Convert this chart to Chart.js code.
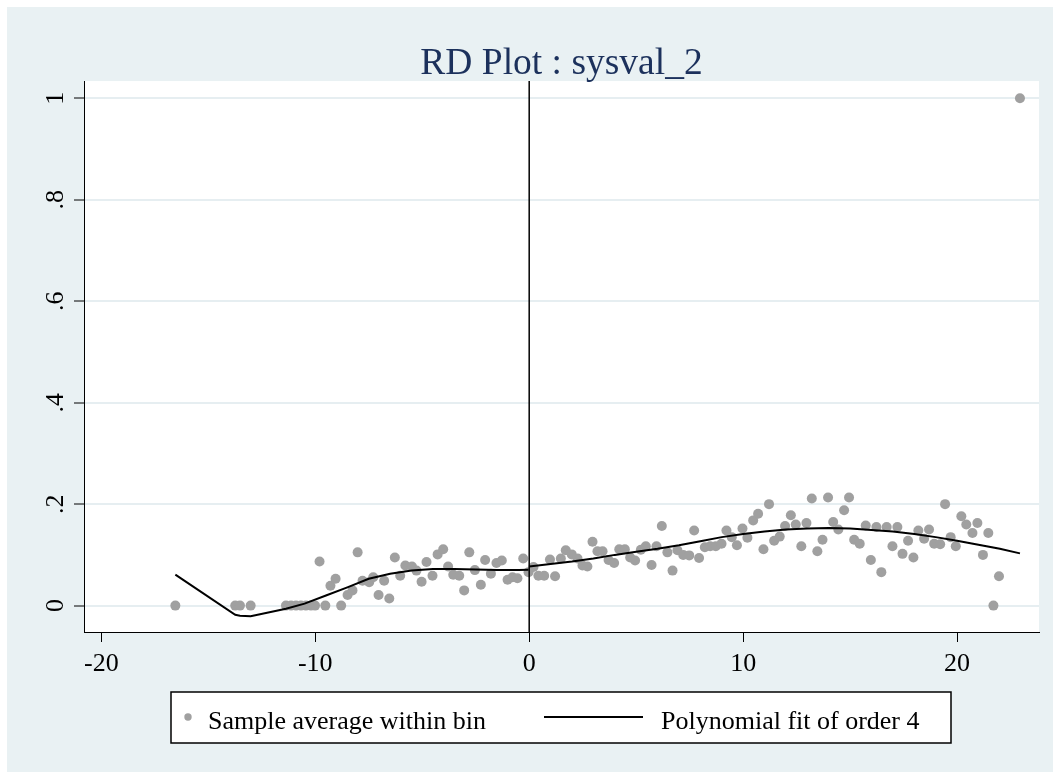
<!DOCTYPE html>
<html>
<head>
<meta charset="utf-8">
<title>RD Plot : sysval_2</title>
<script src="https://cdn.jsdelivr.net/npm/chart.js@4.4.1/dist/chart.umd.min.js"></script>
<style>
  html, body { margin: 0; padding: 0; background: #fff; }
  #wrap { position: relative; width: 1053px; height: 772px; }
</style>
</head>
<body>
<div id="wrap"><canvas id="rdplot" width="1053" height="772"></canvas></div>
<script>
// 1. Data: bin averages (left and right of the cutoff)
const binX = [
  -16.54, -13.74, -13.52, -13.02,
  -11.37, -11.13, -10.9, -10.67, -10.44, -10.2, -10.01, -9.8, -9.53, -9.29, -9.05, -8.79,
  -8.49, -8.26, -8.02, -7.79, -7.48, -7.29, -7.04, -6.78, -6.54, -6.28, -6.03, -5.79,
  -5.48, -5.27, -5.03, -4.8, -4.52, -4.28, -4.02, -3.79, -3.55, -3.27, -3.04, -2.8,
  -2.54, -2.26, -2.06, -1.79, -1.53, -1.28, -1.01, -0.78, -0.55, -0.28, -0.03,
  0.2, 0.43, 0.7, 0.97, 1.21, 1.48, 1.71, 1.99, 2.26, 2.49, 2.72, 2.96, 3.19, 3.43,
  3.71, 3.97, 4.21, 4.47, 4.72, 4.95, 5.22, 5.45, 5.72, 5.95, 6.2, 6.46, 6.7, 6.93,
  7.2, 7.48, 7.71, 7.94, 8.21, 8.46, 8.72, 8.99, 9.22, 9.47, 9.71, 9.97, 10.2, 10.47,
  10.7, 10.95, 11.21, 11.45, 11.71, 11.96, 12.23, 12.46, 12.72, 12.96, 13.21, 13.47,
  13.71, 13.97, 14.21, 14.45, 14.72, 14.95, 15.19, 15.45, 15.73, 15.97, 16.23, 16.46,
  16.71, 16.98, 17.21, 17.45, 17.71, 17.96, 18.19, 18.46, 18.69, 18.93, 19.21, 19.44,
  19.7, 19.94, 20.2, 20.43, 20.72, 20.95, 21.21, 21.46, 21.7, 21.96, 22.94
];
const binY = [
  0, 0, 0, 0,
  0, 0, 0, 0, 0, 0, 0, 0.087, 0, 0.039, 0.053, 0,
  0.021, 0.030, 0.105, 0.049, 0.046, 0.056, 0.021, 0.049, 0.014, 0.095, 0.059, 0.079,
  0.077, 0.069, 0.047, 0.086, 0.059, 0.101, 0.111, 0.077, 0.061, 0.059, 0.030, 0.105,
  0.070, 0.041, 0.090, 0.063, 0.084, 0.089, 0.051, 0.056, 0.054, 0.093, 0.066,
  0.076, 0.059, 0.059, 0.091, 0.058, 0.093, 0.109, 0.101, 0.093, 0.079, 0.077, 0.126, 0.107, 0.107,
  0.090, 0.084, 0.111, 0.111, 0.095, 0.089, 0.110, 0.117, 0.080, 0.117, 0.157, 0.105, 0.069, 0.109,
  0.100, 0.099, 0.148, 0.094, 0.115, 0.117, 0.117, 0.122, 0.148, 0.135, 0.119, 0.152, 0.134, 0.168,
  0.181, 0.111, 0.200, 0.128, 0.136, 0.157, 0.178, 0.160, 0.117, 0.163, 0.211, 0.107,
  0.130, 0.213, 0.165, 0.150, 0.188, 0.213, 0.130, 0.122, 0.158, 0.090, 0.155, 0.066,
  0.155, 0.117, 0.155, 0.102, 0.128, 0.095, 0.148, 0.132, 0.150, 0.122, 0.121, 0.200,
  0.135, 0.117, 0.176, 0.160, 0.143, 0.163, 0.100, 0.143, 0, 0.058, 1
];

// 2. Data: fitted polynomial on each side
const fitLeftX = [-16.54, -13.74, -13.52, -13.02, -11.37, -10.5, -9.5, -8.5, -7.5, -6.5, -5.5, -4.5, -3.5, -2.5, -1.5, -0.5, -0.03];
const fitLeftY = [0.061, -0.018, -0.020, -0.021, -0.006, 0.004, 0.020, 0.036, 0.053, 0.063, 0.069, 0.072, 0.072, 0.071, 0.070, 0.070, 0.0705];
const fitRightX = [0, 1, 2, 3, 4, 5, 6, 7, 8, 9, 10, 11, 12, 13, 14, 15, 16, 17, 18, 19, 20, 21, 22, 22.94];
const fitRightY = [0.077, 0.082, 0.087, 0.093, 0.100, 0.106, 0.112, 0.119, 0.127, 0.135, 0.141, 0.146, 0.150, 0.152, 0.153, 0.152, 0.149, 0.146, 0.141, 0.135, 0.128, 0.120, 0.112, 0.103];

// 3. Axes
const cutoff = 0;
const xTicks = [-20, -10, 0, 10, 20];
const yTicks = [0, 0.2, 0.4, 0.6, 0.8, 1];
const yTickLabels = ['0', '.2', '.4', '.6', '.8', '1'];

const serif = '"Liberation Serif", "DejaVu Serif", serif';
const bgColor = '#e9f1f3';
const gridColor = '#e6eef1';
const dotColor = '#a0a0a0';

function toPoints(xs, ys) {
  return xs.map((x, i) => ({ x: x, y: ys[i] }));
}

// 4. Stata-like frame: background, cutoff line, rotated y labels, boxed legend
const frame = {
  id: 'frame',
  beforeDraw(chart) {
    const { ctx, width, height, chartArea: a } = chart;
    ctx.save();
    ctx.fillStyle = '#fff';
    ctx.fillRect(0, 0, width, height);
    ctx.fillStyle = bgColor;
    ctx.fillRect(7, 7, width - 7, height - 7);
    ctx.fillStyle = '#fff';
    ctx.fillRect(a.left, a.top, a.right - a.left, a.bottom - a.top);
    ctx.restore();
  },
  afterDatasetsDraw(chart) {
    const { ctx, chartArea: a } = chart;
    const px = chart.scales.x.getPixelForValue(cutoff);
    ctx.save();
    ctx.strokeStyle = '#000';
    ctx.lineWidth = 1.5;
    ctx.beginPath();
    ctx.moveTo(px, a.top);
    ctx.lineTo(px, a.bottom);
    ctx.stroke();
    ctx.restore();
  },
  afterDraw(chart) {
    const { ctx } = chart;
    const y = chart.scales.y;
    ctx.save();
    ctx.fillStyle = '#000';
    ctx.font = '26px ' + serif;
    ctx.textAlign = 'center';
    ctx.textBaseline = 'alphabetic';
    yTicks.forEach((v, i) => {
      ctx.save();
      ctx.translate(63, y.getPixelForValue(v));
      ctx.rotate(-Math.PI / 2);
      ctx.fillText(yTickLabels[i], 0, 0);
      ctx.restore();
    });

    // legend box
    ctx.fillStyle = '#fff';
    ctx.fillRect(171, 692, 780, 51);
    ctx.strokeStyle = '#000';
    ctx.lineWidth = 1.5;
    ctx.strokeRect(171, 692, 780, 51);

    ctx.fillStyle = dotColor;
    ctx.beginPath();
    ctx.arc(188, 717, 3.7, 0, Math.PI * 2);
    ctx.fill();

    ctx.strokeStyle = '#000';
    ctx.lineWidth = 2;
    ctx.beginPath();
    ctx.moveTo(544, 717);
    ctx.lineTo(643, 717);
    ctx.stroke();

    ctx.fillStyle = '#000';
    ctx.textAlign = 'left';
    ctx.fillText(chart.data.datasets[0].label, 208, 729);
    ctx.fillText(chart.data.datasets[1].label, 661, 729);
    ctx.restore();
  }
};

// 5. Chart
const ctx = document.getElementById('rdplot').getContext('2d');
const rdChart = new Chart(ctx, {
  type: 'scatter',
  data: {
    datasets: [
      {
        label: 'Sample average within bin',
        data: toPoints(binX, binY),
        backgroundColor: dotColor,
        borderColor: dotColor,
        borderWidth: 0,
        pointRadius: 5,
        order: 3
      },
      {
        type: 'line',
        label: 'Polynomial fit of order 4',
        data: toPoints(fitLeftX, fitLeftY),
        borderColor: '#000',
        borderWidth: 2,
        pointRadius: 0,
        tension: 0,
        fill: false,
        order: 1
      },
      {
        type: 'line',
        label: 'Polynomial fit of order 4 (right)',
        data: toPoints(fitRightX, fitRightY),
        borderColor: '#000',
        borderWidth: 2,
        pointRadius: 0,
        tension: 0,
        fill: false,
        order: 1
      }
    ]
  },
  options: {
    responsive: false,
    animation: false,
    layout: { padding: { top: 0, left: 0, right: 14, bottom: 0 } },
    plugins: {
      legend: { display: false },
      tooltip: { enabled: false },
      title: {
        display: true,
        text: 'RD Plot : sysval_2',
        fullSize: false,
        color: '#1c315c',
        font: { family: serif, size: 37.5, weight: 'normal', lineHeight: 0.9 },
        padding: { top: 47, bottom: 0.3 }
      }
    },
    scales: {
      x: {
        type: 'linear',
        min: -20.81,
        max: 23.83,
        afterBuildTicks: s => { s.ticks = xTicks.map(v => ({ value: v })); },
        afterFit: s => { s.height = 140; },
        grid: { drawOnChartArea: false, tickLength: 10, tickColor: '#000', tickWidth: 1 },
        border: { color: '#000', width: 1 },
        ticks: { color: '#000', font: { family: serif, size: 26 }, padding: 7, maxRotation: 0 }
      },
      y: {
        type: 'linear',
        min: -0.052,
        max: 1.034,
        afterBuildTicks: s => { s.ticks = yTicks.map(v => ({ value: v })); },
        afterFit: s => { s.width = 84; },
        grid: { color: gridColor, lineWidth: 2, tickLength: 10, tickColor: '#000', tickWidth: 1 },
        border: { color: '#000', width: 1 },
        ticks: { display: false }
      }
    }
  },
  plugins: [frame]
});
</script>
</body>
</html>
